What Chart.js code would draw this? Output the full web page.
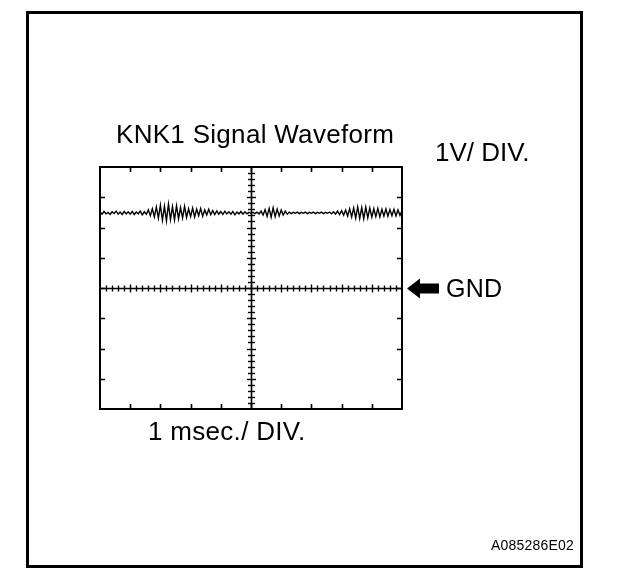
<!DOCTYPE html>
<html>
<head>
<meta charset="utf-8">
<script src="https://cdn.jsdelivr.net/npm/chart.js@4.4.1/dist/chart.umd.min.js"></script>
<style>
  html, body { margin: 0; padding: 0; background: #fff; }
  #wrap { position: relative; width: 624px; height: 580px; overflow: hidden; }
  #frame { position: absolute; left: 26px; top: 11px; width: 557px; height: 557px; box-sizing: border-box; border: 3px solid #000; }
  canvas { position: absolute; left: 0; top: 0; }
  .t { position: absolute; font-family: "Liberation Sans", Arial, sans-serif; color: #000; line-height: 1; white-space: nowrap; }
</style>
</head>
<body>
<div id="wrap">
  <div id="frame"></div>
  <canvas id="c" width="624" height="580"></canvas>
  <div class="t" id="title" style="left:116px; top:121px; font-size:26px; letter-spacing:0.3px;">KNK1 Signal Waveform</div>
  <div class="t" id="vdiv" style="left:435px; top:139px; font-size:26px;">1V/ DIV.</div>
  <div class="t" id="tdiv" style="left:148px; top:418px; font-size:26px; letter-spacing:0.3px;">1 msec./ DIV.</div>
  <div class="t" id="gnd" style="left:446px; top:276px; font-size:25px; letter-spacing:0.3px;">GND</div>
  <div class="t" id="code" style="left:491px; top:538px; font-size:14px; letter-spacing:0.2px;">A085286E02</div>
</div>
<script>
// ---- data ----
const timeRangeMs = [0, 10];          // 10 divisions x 1 ms
const voltRange = [-4, 4];            // 8 divisions x 1 V
const xDivisions = [0, 1, 2, 3, 4, 5, 6, 7, 8, 9, 10];
const yDivisions = [-4, -3, -2, -1, 0, 1, 2, 3, 4];
const gndLevel = 0;
const centerTime = 5;
// KNK1 trace, 15 samples per ms (volts)
const signalVolts = [
  2.51,2.44,2.53,2.45,2.50,2.43,2.52,2.46,2.54,2.44,2.51,2.43,2.53,2.45,2.52,   // 0-1 ms
  2.44,2.53,2.43,2.51,2.45,2.54,2.42,2.52,2.44,2.58,2.39,2.62,2.35,2.68,2.31,   // 1-2 ms
  2.74,2.24,2.70,2.22,2.77,2.26,2.69,2.25,2.72,2.29,2.66,2.31,2.70,2.33,2.62,   // 2-3 ms
  2.36,2.64,2.35,2.61,2.39,2.63,2.37,2.58,2.41,2.60,2.42,2.56,2.43,2.55,2.44,   // 3-4 ms
  2.53,2.43,2.54,2.45,2.52,2.44,2.53,2.42,2.51,2.45,2.53,2.44,2.52,2.45,2.50,   // 4-5 ms
  2.47,2.50,2.46,2.51,2.45,2.54,2.41,2.59,2.37,2.63,2.34,2.65,2.36,2.61,2.38,   // 5-6 ms
  2.58,2.41,2.54,2.44,2.51,2.46,2.50,2.47,2.51,2.46,2.50,2.47,2.51,2.46,2.50,   // 6-7 ms
  2.47,2.51,2.46,2.50,2.47,2.51,2.46,2.50,2.47,2.51,2.45,2.52,2.44,2.54,2.43,   // 7-8 ms
  2.56,2.41,2.58,2.38,2.62,2.35,2.65,2.31,2.68,2.30,2.66,2.29,2.67,2.32,2.64,   // 8-9 ms
  2.34,2.62,2.36,2.63,2.35,2.60,2.38,2.61,2.37,2.59,2.39,2.60,2.38,2.58,2.40,   // 9-10 ms
  2.55
];

const stepMs = (timeRangeMs[1] - timeRangeMs[0]) / (signalVolts.length - 1);
const points = signalVolts.map((v, i) => ({ x: timeRangeMs[0] + i * stepMs, y: v }));

const scopePlugin = {
  id: 'scope',
  beforeDatasetsDraw(chart) {
    const { ctx, chartArea: a, scales: { x, y } } = chart;
    ctx.save();
    ctx.strokeStyle = '#000';
    ctx.lineCap = 'butt';
    // division tick marks on the border (inward)
    ctx.lineWidth = 1.6;
    xDivisions.slice(1, -1).forEach(d => {
      const px = Math.round(x.getPixelForValue(d)) + 0.5;
      ctx.beginPath();
      ctx.moveTo(px, a.top); ctx.lineTo(px, a.top + 5);
      ctx.moveTo(px, a.bottom); ctx.lineTo(px, a.bottom - 5);
      ctx.stroke();
    });
    yDivisions.slice(1, -1).forEach(d => {
      const py = Math.round(y.getPixelForValue(d)) + 0.5;
      ctx.beginPath();
      ctx.moveTo(a.left, py); ctx.lineTo(a.left + 5, py);
      ctx.moveTo(a.right, py); ctx.lineTo(a.right - 5, py);
      ctx.stroke();
    });
    // center crosshair
    const gy = Math.round(y.getPixelForValue(gndLevel)) + 0.5;
    const cx = Math.round(x.getPixelForValue(centerTime)) + 0.5;
    ctx.lineWidth = 1.6;
    ctx.beginPath();
    ctx.moveTo(a.left, gy); ctx.lineTo(a.right, gy);
    ctx.moveTo(cx, a.top); ctx.lineTo(cx, a.bottom);
    ctx.stroke();
    // minor ticks (1/5 division) on the crosshair
    ctx.lineWidth = 1.4;
    for (let k = 1; k < 50; k++) {
      const t = timeRangeMs[0] + k * 0.2;
      const px = Math.round(x.getPixelForValue(t)) + 0.5;
      const len = (k % 5 === 0) ? 4 : 3;
      ctx.beginPath(); ctx.moveTo(px, gy - len); ctx.lineTo(px, gy + len); ctx.stroke();
    }
    for (let k = 1; k < 40; k++) {
      const v = voltRange[0] + k * 0.2;
      const py = Math.round(y.getPixelForValue(v)) + 0.5;
      const len = (k % 5 === 0) ? 4.5 : 3.5;
      ctx.beginPath(); ctx.moveTo(cx - len, py); ctx.lineTo(cx + len, py); ctx.stroke();
    }
    // plot box
    ctx.lineWidth = 2;
    ctx.strokeRect(a.left, a.top, a.right - a.left, a.bottom - a.top);
    // GND arrow
    const tip = a.right + 5;
    ctx.fillStyle = '#000';
    ctx.beginPath();
    ctx.moveTo(tip, gy);
    ctx.lineTo(tip + 13, gy - 10);
    ctx.lineTo(tip + 13, gy - 5);
    ctx.lineTo(tip + 32, gy - 5);
    ctx.lineTo(tip + 32, gy + 5);
    ctx.lineTo(tip + 13, gy + 5);
    ctx.lineTo(tip + 13, gy + 10);
    ctx.closePath();
    ctx.fill();
    ctx.restore();
  }
};

new Chart(document.getElementById('c'), {
  type: 'line',
  data: {
    datasets: [{
      data: points,
      borderColor: '#000',
      borderWidth: 1.4,
      pointRadius: 0,
      tension: 0,
      fill: false
    }]
  },
  options: {
    responsive: false,
    animation: false,
    devicePixelRatio: 1,
    layout: { padding: { left: 100, top: 167, right: 222, bottom: 171 } },
    plugins: { legend: { display: false }, title: { display: false }, tooltip: { enabled: false } },
    scales: {
      x: { type: 'linear', min: timeRangeMs[0], max: timeRangeMs[1], display: false },
      y: { type: 'linear', min: voltRange[0], max: voltRange[1], display: false }
    }
  },
  plugins: [scopePlugin]
});
</script>
</body>
</html>
